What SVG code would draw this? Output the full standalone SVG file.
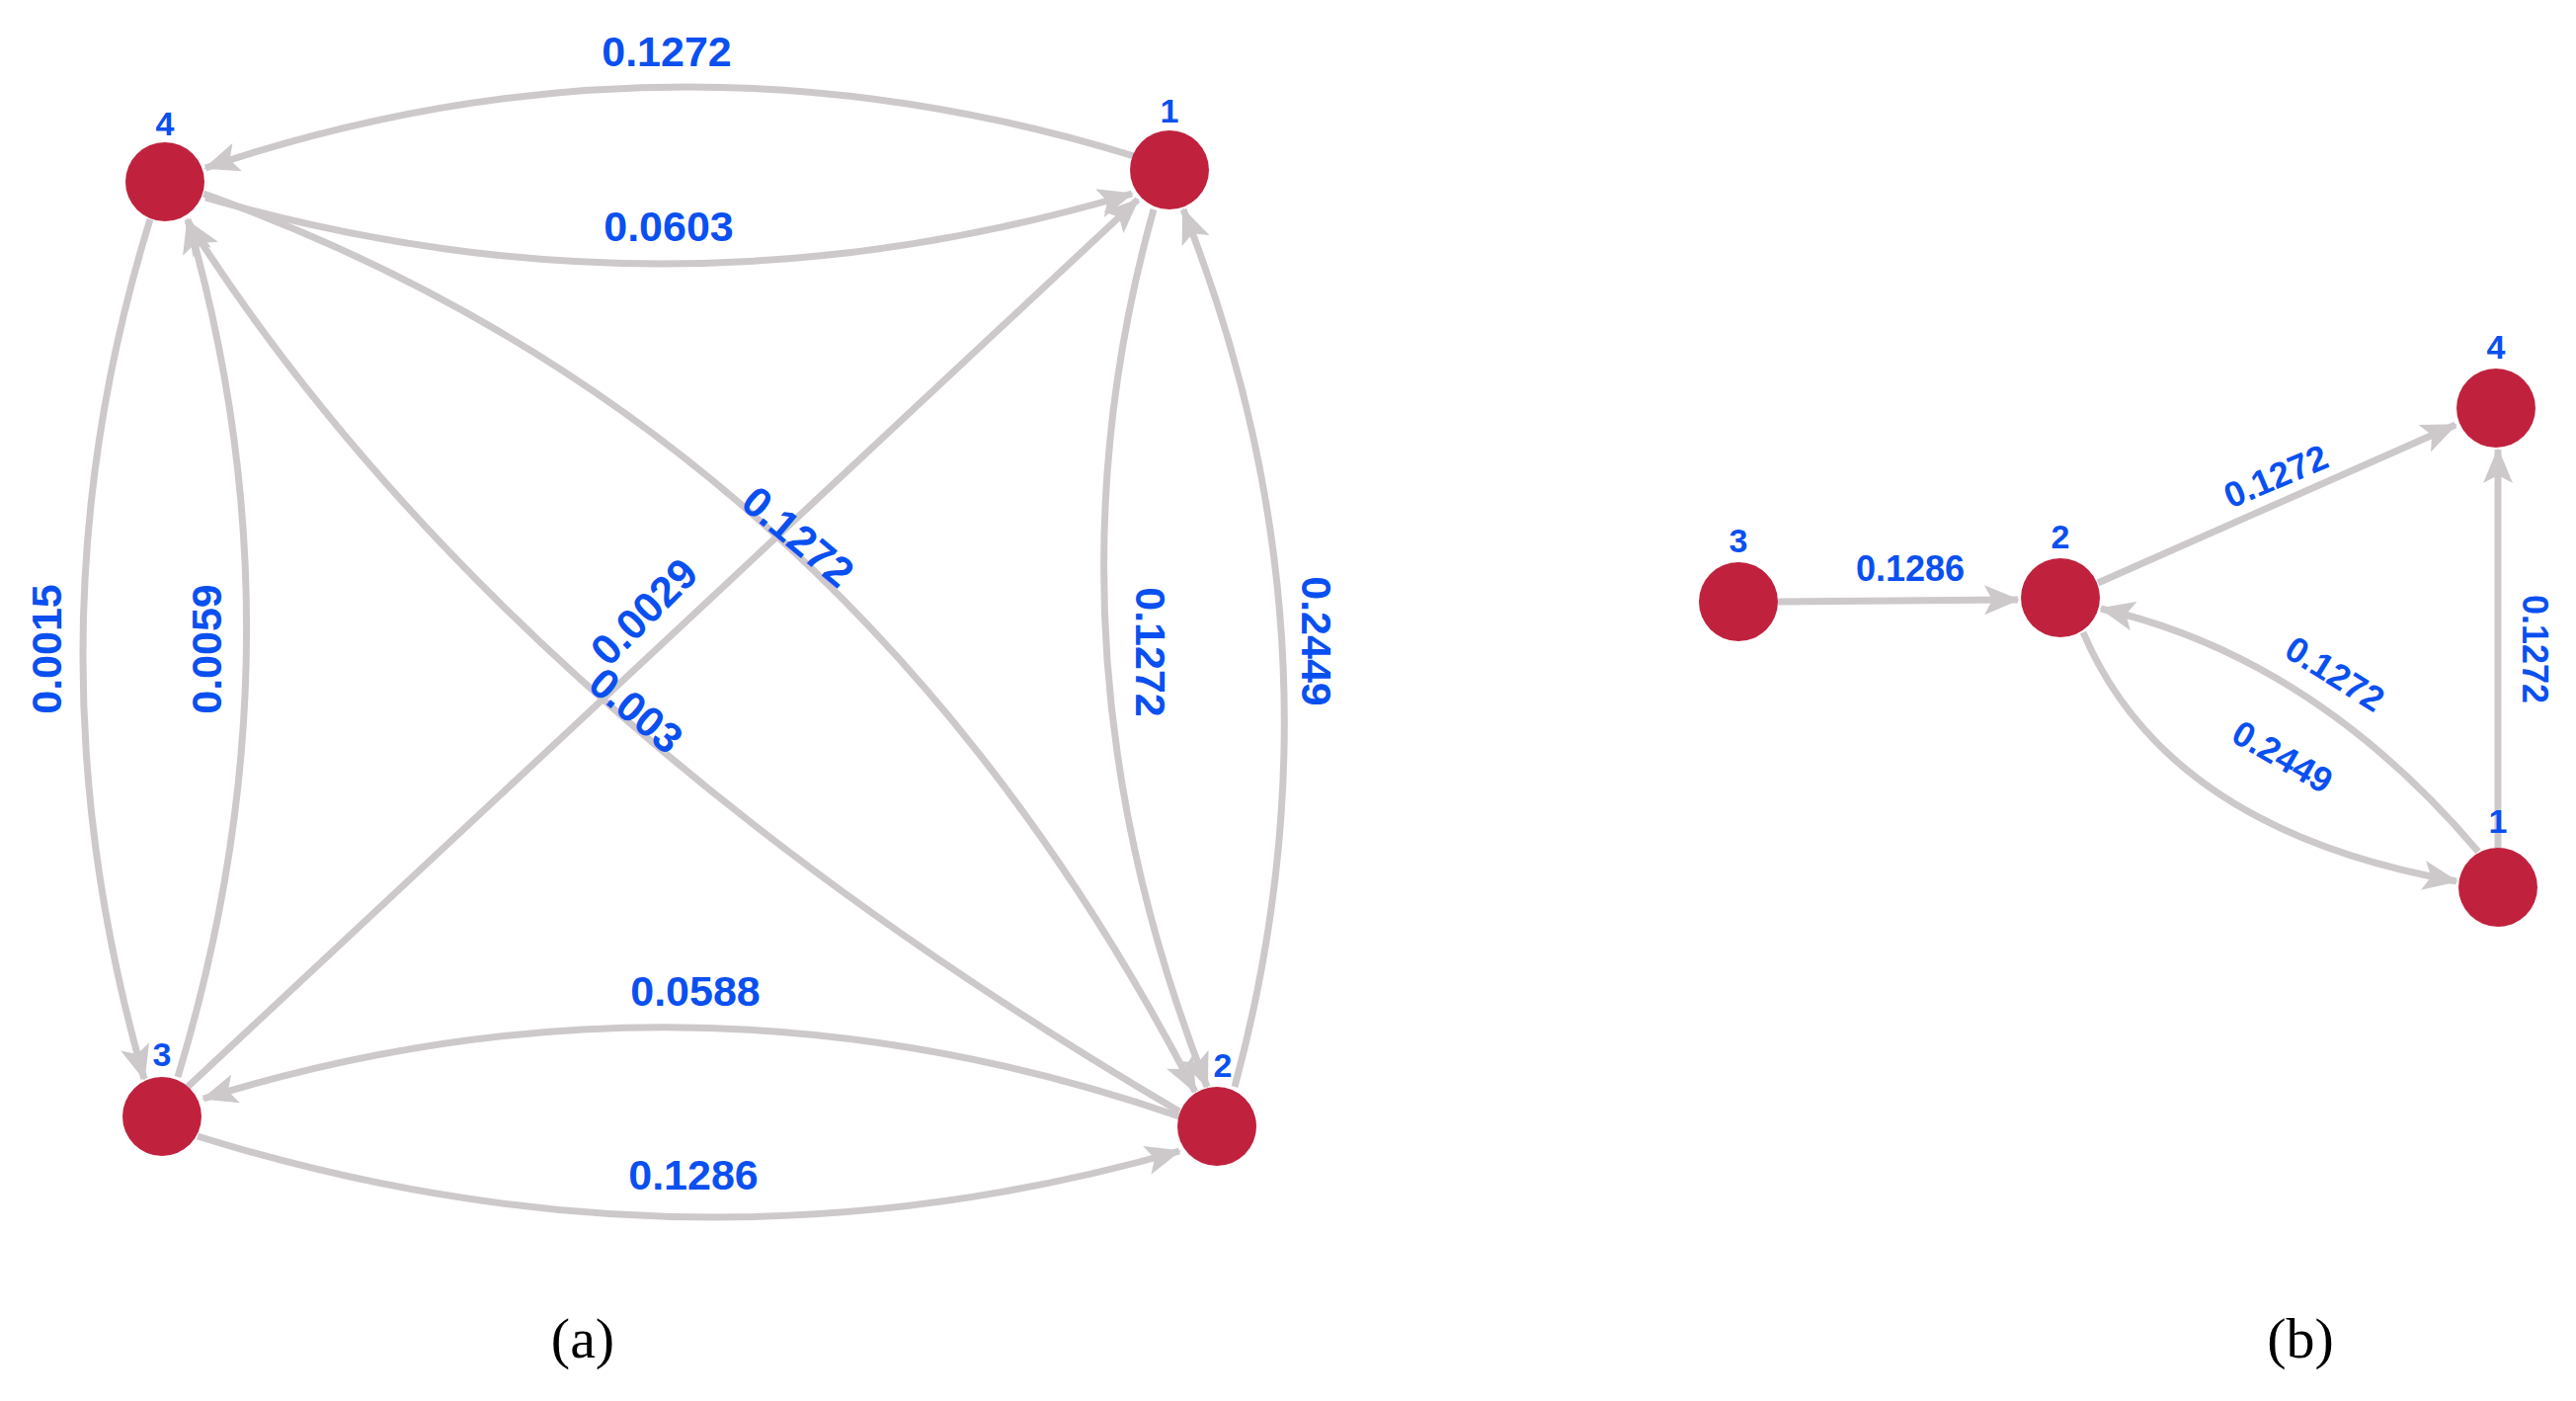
<svg xmlns="http://www.w3.org/2000/svg" width="2608" height="1418" viewBox="0 0 2608 1418">
<style>
.e{fill:none;stroke:#cdc9cb;stroke-width:7}
.n{fill:#c0223e}
.l{font-family:"Liberation Sans",Arial,sans-serif;font-weight:bold;fill:#0a50f0;text-anchor:middle;dominant-baseline:central}
.a{font-size:43px}.b{font-size:36px}
.nl{font-size:34px}
.cap{font-family:"Liberation Serif",serif;font-size:58px;fill:#000;text-anchor:middle}
</style>
<defs>
<marker id="ar" markerUnits="userSpaceOnUse" markerWidth="40" markerHeight="30" refX="34" refY="15" orient="auto">
<path d="M0,0 L36,15 L0,30 L8,15 Z" fill="#cdc9cb"/>
</marker>
</defs>
<g id="connectors">
<path class="e" marker-end="url(#ar)" d="M1148,158 Q676,12 208,170"/>
<path class="e" marker-end="url(#ar)" d="M208,200 Q676,336 1146,196"/>
<path class="e" marker-end="url(#ar)" d="M152,222 Q19,650 146,1092"/>
<path class="e" marker-end="url(#ar)" d="M180,1090 Q314,650 190,222"/>
<path class="e" marker-end="url(#ar)" d="M1168,212 Q1045,650 1222,1100"/>
<path class="e" marker-end="url(#ar)" d="M1250,1100 Q1372,650 1198,212"/>
<path class="e" marker-end="url(#ar)" d="M200,1150 Q700,1306 1194,1165"/>
<path class="e" marker-end="url(#ar)" d="M1194,1130 Q700,959 206,1112"/>
<path class="e" marker-end="url(#ar)" d="M190,1100 L1152,202"/>
<path class="e" marker-end="url(#ar)" d="M206,196 Q860,430 1210,1105"/>
<path class="e" marker-end="url(#ar)" d="M1194,1125 Q505,720 190,224"/>
<path class="e" marker-end="url(#ar)" d="M1800,609 L2043,607"/>
<path class="e" marker-end="url(#ar)" d="M2124,590 L2486,430"/>
<path class="e" marker-end="url(#ar)" d="M2529,858 L2529,455"/>
<path class="e" marker-end="url(#ar)" d="M2509,862 Q2342,665 2127,616"/>
<path class="e" marker-end="url(#ar)" d="M2109,640 Q2194,840 2487,892"/>
</g>
<g id="edge-labels">
<text class="l a" x="675" y="52">0.1272</text>
<text class="l a" x="677" y="229">0.0603</text>
<text class="l a" transform="translate(47,657) rotate(-90)">0.0015</text>
<text class="l a" transform="translate(209,657) rotate(-90)">0.0059</text>
<text class="l a" transform="translate(1165,660) rotate(90)">0.1272</text>
<text class="l a" transform="translate(1333,649) rotate(90)">0.2449</text>
<text class="l a" transform="translate(808,543) rotate(40)">0.1272</text>
<text class="l a" transform="translate(652,619) rotate(-45)">0.0029</text>
<text class="l a" transform="translate(644,719) rotate(40)">0.003</text>
<text class="l a" x="704" y="1003">0.0588</text>
<text class="l a" x="702" y="1189">0.1286</text>
<text class="l b" x="1934" y="575">0.1286</text>
<text class="l b" transform="translate(2304,482) rotate(-23)">0.1272</text>
<text class="l b" transform="translate(2364,682) rotate(32)">0.1272</text>
<text class="l b" transform="translate(2311,766) rotate(30)">0.2449</text>
<text class="l b" transform="translate(2566,657) rotate(90)">0.1272</text>
</g>
<g id="a4"><circle class="n" cx="167" cy="184" r="40"/><text class="l nl" x="167" y="125">4</text></g>
<g id="a1"><circle class="n" cx="1184" cy="172" r="40"/><text class="l nl" x="1184" y="112">1</text></g>
<g id="a3"><circle class="n" cx="164" cy="1130" r="40"/><text class="l nl" x="164" y="1067">3</text></g>
<g id="a2"><circle class="n" cx="1232" cy="1140" r="40"/><text class="l nl" x="1238" y="1078">2</text></g>
<g id="b3"><circle class="n" cx="1760" cy="609" r="40"/><text class="l nl" x="1760" y="547">3</text></g>
<g id="b2"><circle class="n" cx="2086" cy="605" r="40"/><text class="l nl" x="2086" y="543">2</text></g>
<g id="b4"><circle class="n" cx="2527" cy="413" r="40"/><text class="l nl" x="2527" y="351">4</text></g>
<g id="b1"><circle class="n" cx="2529" cy="898" r="40"/><text class="l nl" x="2529" y="831">1</text></g>
<text class="cap" x="590" y="1374">(a)</text>
<text class="cap" x="2329" y="1374">(b)</text>
</svg>
